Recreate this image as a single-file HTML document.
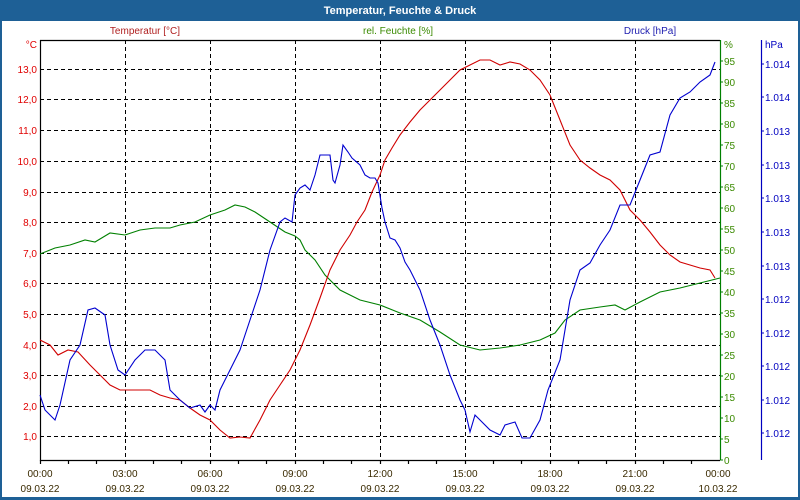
<!DOCTYPE html>
<html><head><meta charset="utf-8"><style>
body{margin:0;background:#fff;}
svg{display:block;font-family:"Liberation Sans",sans-serif;}
</style></head><body>
<svg width="800" height="500" viewBox="0 0 800 500">
<rect x="0" y="0" width="800" height="500" fill="#1e6096"/>
<rect x="2" y="21" width="796" height="476" fill="#fff"/>
<text x="400" y="14" fill="#fff" font-size="11" font-weight="bold" text-anchor="middle">Temperatur, Feuchte &amp; Druck</text>
<g font-size="10">
<text x="145" y="34" fill="#b02020" text-anchor="middle">Temperatur [°C]</text>
<text x="398" y="34" fill="#3a8a00" text-anchor="middle">rel. Feuchte [%]</text>
<text x="650" y="34" fill="#2020b0" text-anchor="middle">Druck [hPa]</text>
</g>
<!-- grid -->
<g stroke="#000" stroke-dasharray="4,3" stroke-width="1">
<path d="M40 69.5H720M40 99.5H720M40 130.5H720M40 161.5H720M40 192.5H720M40 222.5H720M40 253.5H720M40 283.5H720M40 314.5H720M40 345.5H720M40 375.5H720M40 406.5H720M40 436.5H720"/>
<path d="M125.5 40V460M210.5 40V460M295.5 40V460M380.5 40V460M465.5 40V460M550.5 40V460M635.5 40V460"/>
</g>
<g stroke="#000" stroke-width="1.2" fill="none">
<path d="M40.5 40V460.5H720 M40 40.5H720"/>
<path d="M68.5 460v4M96.5 460v4M125.5 460v4M153.5 460v4M181.5 460v4M210.5 460v4M238.5 460v4M266.5 460v4M295.5 460v4M323.5 460v4M351.5 460v4M380.5 460v4M408.5 460v4M436.5 460v4M465.5 460v4M493.5 460v4M521.5 460v4M550.5 460v4M578.5 460v4M606.5 460v4M635.5 460v4M663.5 460v4M691.5 460v4M40.5 460v4"/>
</g>
<path d="M720.5 40V460" stroke="#008000" stroke-width="1.2"/>
<path d="M761.5 40V460" stroke="#0000c0" stroke-width="1.2"/>
<g fill="#e00000" font-size="10" text-anchor="end">
<text x="37" y="48">°C</text>
<text x="37" y="73">13,0</text><text x="37" y="103">12,0</text><text x="37" y="134">11,0</text><text x="37" y="165">10,0</text><text x="37" y="196">9,0</text><text x="37" y="226">8,0</text><text x="37" y="257">7,0</text><text x="37" y="287">6,0</text><text x="37" y="318">5,0</text><text x="37" y="349">4,0</text><text x="37" y="379">3,0</text><text x="37" y="410">2,0</text><text x="37" y="440">1,0</text>
</g>
<g fill="#3a8a00" font-size="10">
<text x="724" y="48">%</text>
<text x="724" y="65">95</text><text x="724" y="86">90</text><text x="724" y="107">85</text><text x="724" y="128">80</text><text x="724" y="149">75</text><text x="724" y="170">70</text><text x="724" y="191">65</text><text x="724" y="212">60</text><text x="724" y="233">55</text><text x="724" y="254">50</text><text x="724" y="275">45</text><text x="724" y="296">40</text><text x="724" y="317">35</text><text x="724" y="338">30</text><text x="724" y="359">25</text><text x="724" y="380">20</text><text x="724" y="401">15</text><text x="724" y="422">10</text><text x="724" y="443">5</text><text x="724" y="464">0</text>
</g>
<g stroke="#008000"><path d="M720 61h3M720 82h3M720 103h3M720 124h3M720 145h3M720 166h3M720 187h3M720 208h3M720 229h3M720 250h3M720 271h3M720 292h3M720 313h3M720 334h3M720 355h3M720 376h3M720 397h3M720 418h3M720 439h3M720 460h3"/></g>
<g fill="#0000c0" font-size="10">
<text x="765" y="48">hPa</text>
<text x="765" y="68">1.014</text><text x="765" y="101">1.014</text><text x="765" y="135">1.013</text><text x="765" y="169">1.013</text><text x="765" y="202">1.013</text><text x="765" y="236">1.013</text><text x="765" y="270">1.013</text><text x="765" y="303">1.012</text><text x="765" y="337">1.012</text><text x="765" y="370">1.012</text><text x="765" y="404">1.012</text><text x="765" y="437">1.012</text>
</g>
<g stroke="#0000c0"><path d="M761 64h3M761 97h3M761 131h3M761 165h3M761 198h3M761 232h3M761 266h3M761 299h3M761 333h3M761 366h3M761 400h3M761 433h3"/></g>
<g fill="#3a2a00" font-size="10" text-anchor="middle">
<text x="40" y="477">00:00</text><text x="40" y="492">09.03.22</text>
<text x="125" y="477">03:00</text><text x="125" y="492">09.03.22</text>
<text x="210" y="477">06:00</text><text x="210" y="492">09.03.22</text>
<text x="295" y="477">09:00</text><text x="295" y="492">09.03.22</text>
<text x="380" y="477">12:00</text><text x="380" y="492">09.03.22</text>
<text x="465" y="477">15:00</text><text x="465" y="492">09.03.22</text>
<text x="550" y="477">18:00</text><text x="550" y="492">09.03.22</text>
<text x="635" y="477">21:00</text><text x="635" y="492">09.03.22</text>
<text x="718" y="477">00:00</text><text x="718" y="492">10.03.22</text>
</g>
<g fill="none" stroke-width="1.1">
<polyline stroke="#008000" points="40,254 55,248 70,245 85,240 95,242 110,233 125,235 140,230 155,228 170,228 180,225 195,222 210,215 225,210 235,205 245,207 255,212 270,222 285,232 295,236 300,240 305,250 315,260 325,275 340,290 360,300 380,305 400,313 420,320 440,332 460,345 480,350 500,348 520,345 540,340 555,333 565,320 580,310 600,307 615,305 625,310 640,302 660,292 680,288 700,283 720,278"/>
<polyline stroke="#d00000" points="40,340 50,345 58,355 68,350 78,352 90,365 100,375 110,385 120,390 135,390 150,390 160,395 170,398 180,400 190,408 200,415 210,420 220,430 230,438 240,437 250,438 260,420 270,400 280,385 290,370 300,350 310,325 320,298 330,270 340,250 350,235 357,222 365,210 372,192 380,175 385,160 392,148 400,135 410,122 420,110 430,100 440,90 450,80 460,70 470,65 480,60 490,60 500,65 510,62 520,64 530,70 540,80 550,95 560,120 570,145 580,160 590,168 600,175 610,180 620,190 630,210 640,220 650,232 660,245 670,255 680,262 690,265 700,268 710,270 715,278"/>
<polyline stroke="#0000d0" points="40,395 45,410 55,420 60,405 70,360 80,345 88,310 95,308 105,315 110,345 118,370 125,375 135,360 145,350 155,350 165,360 170,390 180,400 190,408 200,405 205,412 210,405 215,410 220,390 230,370 240,350 250,320 260,290 270,250 280,222 285,218 292,222 295,195 300,188 305,185 310,190 315,175 320,155 330,155 333,180 335,183 340,165 343,145 348,152 352,158 360,165 365,175 370,178 375,178 378,183 382,208 385,222 390,238 395,240 400,248 405,262 410,270 420,290 430,320 440,345 450,375 460,400 465,410 470,432 475,415 480,420 490,430 500,435 505,425 515,422 522,438 530,438 540,420 548,390 560,360 570,300 580,270 590,263 600,245 610,230 620,205 630,205 640,180 650,155 660,152 670,115 680,98 690,92 700,82 710,75 715,62"/>
</g>
</svg>
</body></html>
